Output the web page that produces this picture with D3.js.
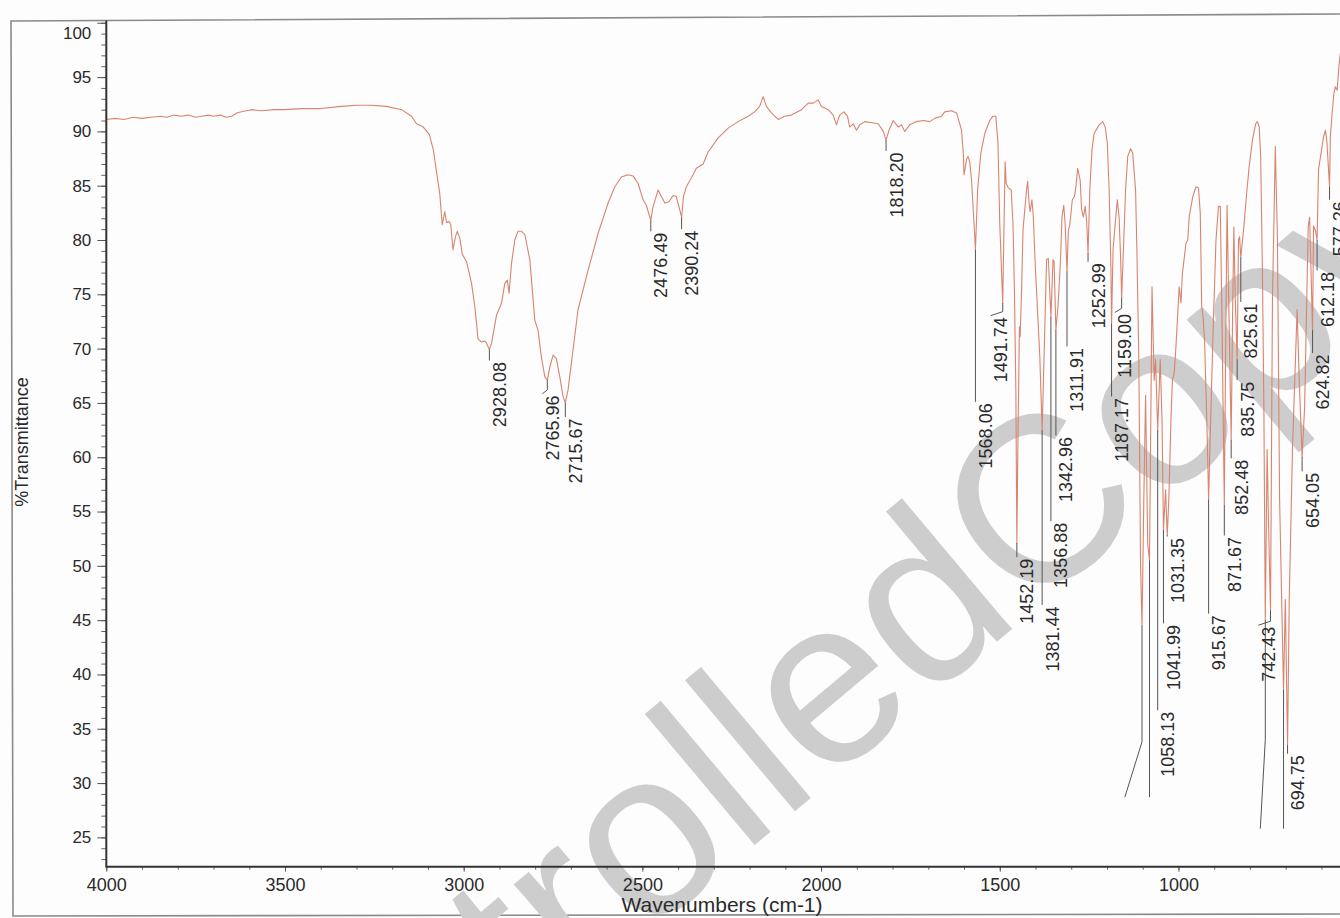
<!DOCTYPE html>
<html>
<head>
<meta charset="utf-8">
<script src="https://cdn.jsdelivr.net/npm/d3@7"></script>
<style>
  html, body { margin: 0; padding: 0; background: #fdfdfd; }
  svg { display: block; }
  text { font-family: "Liberation Sans", Arial, Helvetica, sans-serif; }
</style>
</head>
<body>
<svg id="chart" width="1340" height="918"></svg>
<script>
// FT-IR spectrum: wavenumber (cm-1) vs %Transmittance
const wavenumber = [
  4000, 3975, 3950, 3925, 3900, 3874, 3850, 3830, 3810, 3790, 3770, 3750, 3733, 3715, 3700, 3680,
  3665, 3649, 3635, 3622, 3594, 3566, 3530, 3500, 3454, 3400, 3342, 3300, 3258, 3216, 3174, 3146,
  3132, 3113,
  3096, 3085, 3077, 3067, 3060, 3053, 3048, 3041, 3036, 3030, 3023, 3018, 3011, 3004, 2992, 2978,
  2969, 2964, 2960, 2950, 2941, 2936, 2928.08, 2922, 2908, 2894, 2885, 2878, 2873, 2866, 2857, 2848,
  2838, 2829, 2815, 2801, 2792, 2783, 2773, 2765.96, 2759, 2750, 2741, 2731, 2722, 2715.67, 2708, 2694,
  2680, 2652, 2624, 2596, 2577, 2559, 2540, 2526, 2512, 2498, 2489, 2476.49, 2470, 2456, 2447, 2437,
  2426, 2414, 2405, 2390.24, 2385, 2377, 2363, 2349, 2330, 2316, 2288, 2260, 2232, 2204, 2186, 2172,
  2162, 2153, 2139, 2120, 2102, 2083, 2055, 2036, 2022, 2008, 1999, 1980, 1966, 1957, 1948, 1936,
  1926, 1920, 1910, 1901, 1892, 1878, 1859, 1840, 1826, 1818.20, 1810, 1798, 1784, 1775, 1766, 1752,
  1733, 1714, 1696, 1682, 1663, 1654, 1635, 1621, 1612, 1607, 1602, 1600, 1593, 1589, 1584, 1579,
  1572, 1568.06, 1562, 1553, 1542, 1528, 1519, 1511, 1505, 1500, 1496, 1491.74, 1488, 1485, 1482, 1476,
  1468, 1463, 1459, 1455, 1452.19, 1449, 1445, 1443, 1439, 1435, 1430, 1425, 1422, 1418, 1415, 1410,
  1406, 1401, 1388, 1381.44, 1369, 1364, 1356.88, 1351, 1348, 1342.96, 1337, 1330, 1326, 1321, 1317, 1311.91,
  1308, 1304, 1297, 1291, 1287, 1282, 1275, 1271, 1266, 1261, 1257, 1252.99, 1248, 1242, 1236, 1222,
  1212, 1205, 1199, 1194, 1189, 1187.17, 1183, 1177, 1171, 1166, 1162, 1159.00, 1153, 1148, 1142, 1134,
  1128, 1120, 1116, 1111, 1106, 1102, 1097, 1092, 1086, 1081, 1074, 1068, 1064, 1058.13, 1051, 1046,
  1041.99, 1036, 1031.35, 1027, 1021, 1017, 1012, 1007, 998, 993, 989, 979, 974, 970, 960, 951,
  944, 939, 935, 931, 927, 920, 915.67, 910, 903, 895, 888, 883, 879, 871.67, 868, 864,
  859, 852.48, 848, 845, 841, 835.75, 832, 829, 825.61, 817, 810, 802, 793, 784, 779, 774,
  770, 765, 761, 757, 752, 747, 742.43, 737, 729, 723, 717, 706, 701, 694.75, 690, 681,
  668, 662, 654.05, 647, 637, 633, 624.82, 622, 617, 612.18, 608, 594, 589, 585, 577.26, 575,
  570, 565, 561, 556, 551, 547, 542
];
const transmittance = [
  91.1, 91.2, 91.1, 91.3, 91.2, 91.3, 91.4, 91.3, 91.5, 91.4, 91.5, 91.3, 91.4, 91.5, 91.4, 91.5,
  91.3, 91.4, 91.7, 91.8, 92.0, 91.9, 92.0, 92.0, 92.1, 92.1, 92.3, 92.4, 92.4, 92.3, 92.0, 91.4,
  90.7, 90.4,
  89.7, 88.3, 86.5, 84.3, 81.4, 82.6, 81.6, 81.7, 81.4, 79.1, 80.3, 80.8, 80.2, 78.7, 78.0, 76.0,
  73.9, 72.3, 70.9, 70.6, 70.7, 70.5, 69.9, 70.5, 73.1, 74.2, 76.0, 76.3, 75.1, 77.9, 80.0, 80.8,
  80.8, 80.5, 78.2, 72.6, 71.7, 69.3, 67.4, 67.1, 68.3, 69.4, 69.1, 67.4, 65.6, 65.0, 66.2, 69.9,
  73.6, 77.2, 80.6, 83.4, 84.9, 85.8, 86.0, 85.9, 85.2, 83.7, 83.2, 81.8, 83.1, 84.6, 84.0, 83.4,
  83.5, 84.1, 84.0, 82.1, 84.0, 84.9, 85.7, 86.6, 87.0, 88.1, 89.4, 90.3, 90.9, 91.4, 91.8, 92.3,
  93.2, 92.3, 91.7, 91.1, 91.4, 91.5, 92.0, 92.6, 92.6, 92.9, 92.3, 92.0, 91.5, 90.6, 91.5, 91.8,
  91.4, 90.4, 90.7, 90.1, 90.6, 90.9, 90.8, 90.7, 90.0, 89.2, 90.1, 91.0, 90.4, 90.6, 90.0, 90.6,
  90.9, 91.0, 90.9, 91.2, 91.4, 91.8, 91.9, 91.7, 90.7, 90.1, 88.0, 86.0, 87.4, 87.7, 87.2, 85.5,
  81.5, 79.1, 84.6, 88.0, 89.8, 91.0, 91.4, 91.4, 88.9, 81.5, 78.0, 74.2, 81.5, 87.2, 85.2, 84.8,
  84.6, 81.5, 75.4, 66.2, 52.1, 62.0, 72.0, 71.1, 75.4, 80.9, 82.8, 84.6, 85.4, 83.4, 82.6, 83.7,
  82.1, 77.9, 69.3, 62.5, 78.2, 78.3, 72.9, 78.2, 78.0, 71.7, 73.9, 78.2, 82.1, 83.2, 81.5, 77.1,
  80.9, 81.4, 83.7, 84.0, 84.9, 86.6, 85.5, 82.8, 82.1, 83.1, 81.8, 78.8, 84.6, 88.3, 89.8, 90.6,
  90.9, 90.4, 88.9, 84.6, 77.5, 72.3, 79.1, 81.5, 83.7, 82.0, 78.5, 74.7, 80.0, 84.6, 87.7, 88.4,
  88.0, 84.6, 78.5, 69.3, 50.0, 44.5, 56.0, 65.7, 52.0, 50.5, 75.7, 67.1, 69.0, 62.5, 69.0, 63.4,
  53.3, 57.0, 52.8, 56.1, 63.4, 67.1, 67.7, 70.2, 75.7, 74.2, 76.9, 79.7, 80.0, 82.1, 84.0, 84.9,
  84.8, 82.5, 73.9, 72.9, 70.8, 62.5, 56.1, 63.4, 71.7, 80.0, 83.1, 83.1, 74.5, 55.6, 69.9, 83.2,
  73.9, 61.6, 74.5, 81.2, 74.5, 69.0, 80.0, 80.3, 78.4, 81.2, 84.0, 86.8, 89.2, 90.7, 90.9, 90.4,
  87.7, 76.9, 64.6, 45.0, 60.7, 52.4, 45.9, 74.5, 88.6, 80.0, 56.1, 38.6, 46.9, 33.5, 46.9, 60.7,
  73.6, 67.1, 60.0, 64.6, 81.2, 82.1, 71.7, 81.3, 80.9, 80.0, 86.5, 89.5, 90.1, 89.2, 84.9, 89.5,
  91.7, 93.5, 94.1, 93.8, 96.0, 97.2, 97.5
];

// Labelled peaks: position, depth, where the leader stops (%T) and leader kink (cm-1 shift)
const peakPositions = [2928.08, 2765.96, 2715.67, 2476.49, 2390.24, 1818.20, 1568.06, 1491.74, 1452.19,
  1381.44, 1356.88, 1342.96, 1311.91, 1252.99, 1187.17, 1159.00, 1058.13, 1041.99, 1031.35, 915.67,
  871.67, 852.48, 835.75, 825.61, 742.43, 694.75, 654.05, 624.82, 612.18, 577.26];
const peakDepths = [69.9, 67.1, 65.0, 81.8, 82.1, 89.2, 79.1, 74.2, 52.1, 62.5, 72.9, 71.7, 77.1, 78.8,
  72.3, 74.7, 62.5, 53.3, 52.8, 56.1, 55.6, 61.6, 69.0, 78.4, 45.9, 33.5, 60.0, 71.7, 80.0, 84.9];
const leaderEnds = [68.9, 66.2, 63.7, 80.8, 81.0, 88.2, 65.1, 73.4, 50.8, 46.4, 54.1, 62.0, 70.2, 78.0,
  65.6, 73.7, 36.7, 44.7, 52.7, 45.6, 52.8, 59.9, 67.1, 74.3, 44.9, 32.7, 58.7, 69.6, 77.2, 83.7];
const leaderKinks = [0, 14, 0, 0, 0, 0, 0, 34, 0, 0, 0, 0, 0, 0, 0, 19, 0, 0, 0, 0,
  0, 0, 0, 0, 34, 0, 0, 0, 0, 0];

// Deep bands whose markers carry no number
const unlabeledPositions = [1102, 1081, 757, 706];
const unlabeledDepths = [44.5, 50.5, 45.0, 38.6];
const unlabeledBends = [33.8, 28.7, 34.0, 25.8];
const unlabeledEnds = [28.7, 28.7, 25.8, 25.8];
const unlabeledKinks = [48, 0, 14, 0];

const xMajorTicks = [4000, 3500, 3000, 2500, 2000, 1500, 1000];
const yMajorTicks = [25, 30, 35, 40, 45, 50, 55, 60, 65, 70, 75, 80, 85, 90, 95, 100];

(function draw() {
  const svg = d3.select("#chart");
  const W = 1340, H = 918;
  const plotLeft = 106.3, plotRight = 1340, plotTop = 20.6, plotBottom = 866.7;

  const x = d3.scaleLinear().domain([4000, 548]).range([plotLeft, plotRight]);
  const y = d3.scaleLinear().domain([22.3, 100.2]).range([plotBottom, plotTop]);

  svg.append("rect").attr("width", W).attr("height", H).attr("fill", "#fdfdfd");

  // outer page frame
  svg.append("path")
    .attr("d", "M1340,14 L11,21 L13,916 L1340,914")
    .attr("fill", "none").attr("stroke", "#8a8a8a").attr("stroke-width", 1.6);

  // watermark
  const wm = svg.append("g").attr("transform", "translate(1024,619) rotate(-40)")
    .attr("fill", "#cdcdcd").style("font-size", "236px");
  wm.append("text").attr("text-anchor", "end").text("Controlled ");
  wm.append("text").attr("text-anchor", "start").text("Copy");

  svg.append("defs").append("clipPath").attr("id", "plotclip")
    .append("rect").attr("x", plotLeft).attr("y", plotTop - 10)
    .attr("width", plotRight - plotLeft).attr("height", plotBottom - plotTop + 10);

  // spectrum
  const pts = wavenumber.map((w, i) => [w, transmittance[i]]);
  svg.append("path")
    .datum(pts)
    .attr("clip-path", "url(#plotclip)")
    .attr("fill", "none")
    .attr("stroke", "#d8846e")
    .attr("stroke-width", 1.1)
    .attr("stroke-linejoin", "round")
    .attr("d", d3.line().x(d => x(d[0])).y(d => y(d[1])));

  // peak markers and labels
  const leaders = svg.append("g").attr("stroke", "#555").attr("stroke-width", 1).attr("fill", "none");
  const labels = svg.append("g").attr("fill", "#2a2a2a").style("font-size", "18px");
  peakPositions.forEach((p, i) => {
    const px = x(p), y0 = y(peakDepths[i]), y1 = y(leaderEnds[i]);
    let path = `M${px},${y0} L${px},${y1}`;
    let ex = px, ey = y1;
    if (leaderKinks[i]) {
      ex = x(p + leaderKinks[i]);
      ey = y1 + 4;
      path += ` L${ex},${ey}`;
    }
    leaders.append("path").attr("d", path);
    labels.append("text")
      .attr("transform", `translate(${ex + 10.5},${ey + 1.5}) rotate(-90)`)
      .attr("text-anchor", "end")
      .attr("dominant-baseline", "central")
      .text(p.toFixed(2));
  });
  unlabeledPositions.forEach((p, i) => {
    const px = x(p);
    let path = `M${px},${y(unlabeledDepths[i])} L${px},${y(unlabeledBends[i])}`;
    path += ` L${x(p + unlabeledKinks[i])},${y(unlabeledEnds[i])}`;
    leaders.append("path").attr("d", path);
  });

  // axes
  const yMinor = svg.append("g").attr("transform", `translate(${plotLeft},0)`)
    .call(d3.axisLeft(y).tickValues(d3.range(23, 101)).tickSize(5).tickFormat(""));
  yMinor.selectAll(".tick line").attr("stroke", "#666");
  const yMajor = svg.append("g").attr("transform", `translate(${plotLeft},0)`)
    .call(d3.axisLeft(y).tickValues(yMajorTicks).tickSize(9).tickPadding(6).tickFormat(d3.format("d")));
  yMajor.selectAll(".tick line").attr("stroke", "#555");
  yMajor.selectAll("text").style("font-size", "17px").attr("fill", "#2a2a2a");
  yMajor.selectAll(".tick").filter(d => d === 100).select("text").attr("dy", "0.9em");

  const xMinor = svg.append("g").attr("transform", `translate(0,${plotBottom})`)
    .call(d3.axisBottom(x).tickValues(d3.range(4000, 548, -100)).tickSize(3).tickFormat(""));
  xMinor.selectAll(".tick line").attr("stroke", "#666");
  const xMajor = svg.append("g").attr("transform", `translate(0,${plotBottom})`)
    .call(d3.axisBottom(x).tickValues(xMajorTicks).tickSize(5).tickPadding(7).tickFormat(d3.format("d")));
  xMajor.selectAll(".tick line").attr("stroke", "#555");
  xMajor.selectAll("text").style("font-size", "18px").attr("fill", "#2a2a2a");
  svg.selectAll(".domain").remove();

  svg.append("path")
    .attr("d", `M${plotLeft},${plotTop} L${plotLeft},${plotBottom} L${plotRight},${plotBottom}`)
    .attr("fill", "none").attr("stroke", "#333").attr("stroke-width", 2);

  // axis titles
  svg.append("text")
    .attr("x", 722).attr("y", 912)
    .attr("text-anchor", "middle")
    .attr("fill", "#2a2a2a").style("font-size", "21px")
    .text("Wavenumbers (cm-1)");
  svg.append("text")
    .attr("transform", "translate(22,442) rotate(-90)")
    .attr("text-anchor", "middle")
    .attr("dominant-baseline", "central")
    .attr("fill", "#2a2a2a").style("font-size", "18px")
    .text("%Transmittance");
})();
</script>
</body>
</html>
